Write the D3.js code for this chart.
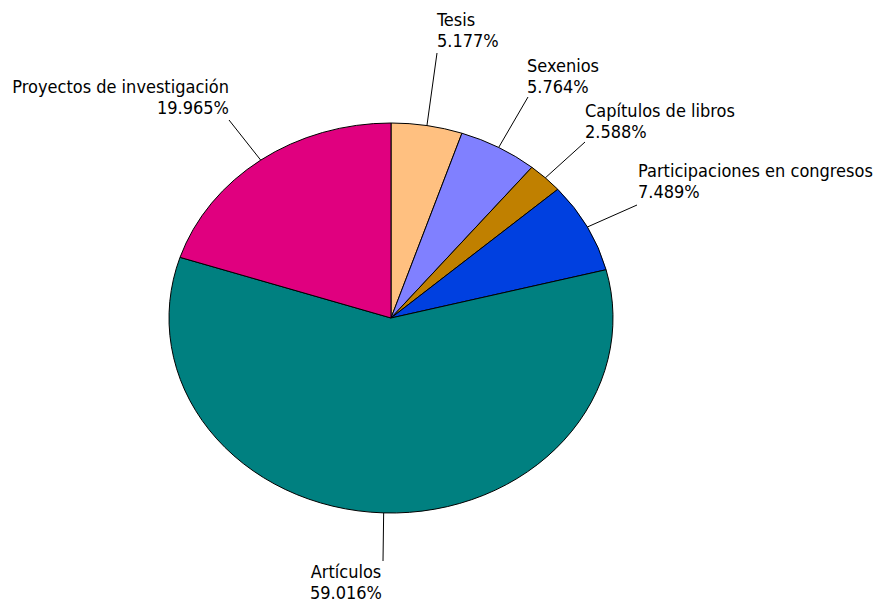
<!DOCTYPE html>
<html><head><meta charset="utf-8">
<script src="https://cdn.jsdelivr.net/npm/d3@7"></script>
<style>body{margin:0;background:#fff}svg{display:block}text{font-family:"DejaVu Sans Condensed","DejaVu Sans",sans-serif;font-size:18px;fill:#000}</style>
</head><body>
<script>
const categories = ["Tesis","Sexenios","Capítulos de libros","Participaciones en congresos","Artículos","Proyectos de investigación"];
const values = [5.177, 5.764, 2.588, 7.489, 59.016, 19.965];
const colors = ["#FFC080","#8080FF","#C08000","#0040E0","#008080","#E0007F"];
// label layout: anchor point (x, baseline of first line), text anchor, leader end
const labelLayout = [
  {x:437, y:26, anchor:"start", lx:437, ly:53},
  {x:527, y:72, anchor:"start", lx:528, ly:97},
  {x:585, y:117, anchor:"start", lx:585, ly:142},
  {x:638, y:177, anchor:"start", lx:637, ly:205},
  {x:346, y:578, anchor:"middle", lx:383, ly:561},
  {x:229, y:93, anchor:"end", lx:229, ly:120}
];
const W=877,H=604, cx=391, cy=318, rx=222, ry=195;
const svg=d3.select("body").append("svg").attr("width",W).attr("height",H);
const pie=d3.pie().sort(null).value(d=>d).startAngle(0).endAngle(2*Math.PI);
const arcs=pie(values);
const arc=d3.arc().innerRadius(0).outerRadius(ry);
const g=svg.append("g").attr("transform",`translate(${cx},${cy}) scale(${rx/ry},1)`);
g.selectAll("path").data(arcs).join("path")
  .attr("d",arc).attr("fill",(d,i)=>colors[i])
  .attr("stroke","#000").attr("stroke-width",1).attr("vector-effect","non-scaling-stroke");
// leader lines
arcs.forEach((d,i)=>{
  const a=(d.startAngle+d.endAngle)/2;
  const x0=cx+rx*Math.sin(a), y0=cy-ry*Math.cos(a);
  const L=labelLayout[i];
  svg.append("line").attr("x1",x0).attr("y1",y0).attr("x2",L.lx).attr("y2",L.ly)
    .attr("stroke","#000").attr("stroke-width",1);
  const t=svg.append("text").attr("text-anchor",L.anchor);
  t.append("tspan").attr("x",L.x).attr("y",L.y).text(categories[i]);
  t.append("tspan").attr("x",L.x).attr("y",L.y+21).text(values[i].toFixed(3)+"%");
});
</script>
</body></html>
